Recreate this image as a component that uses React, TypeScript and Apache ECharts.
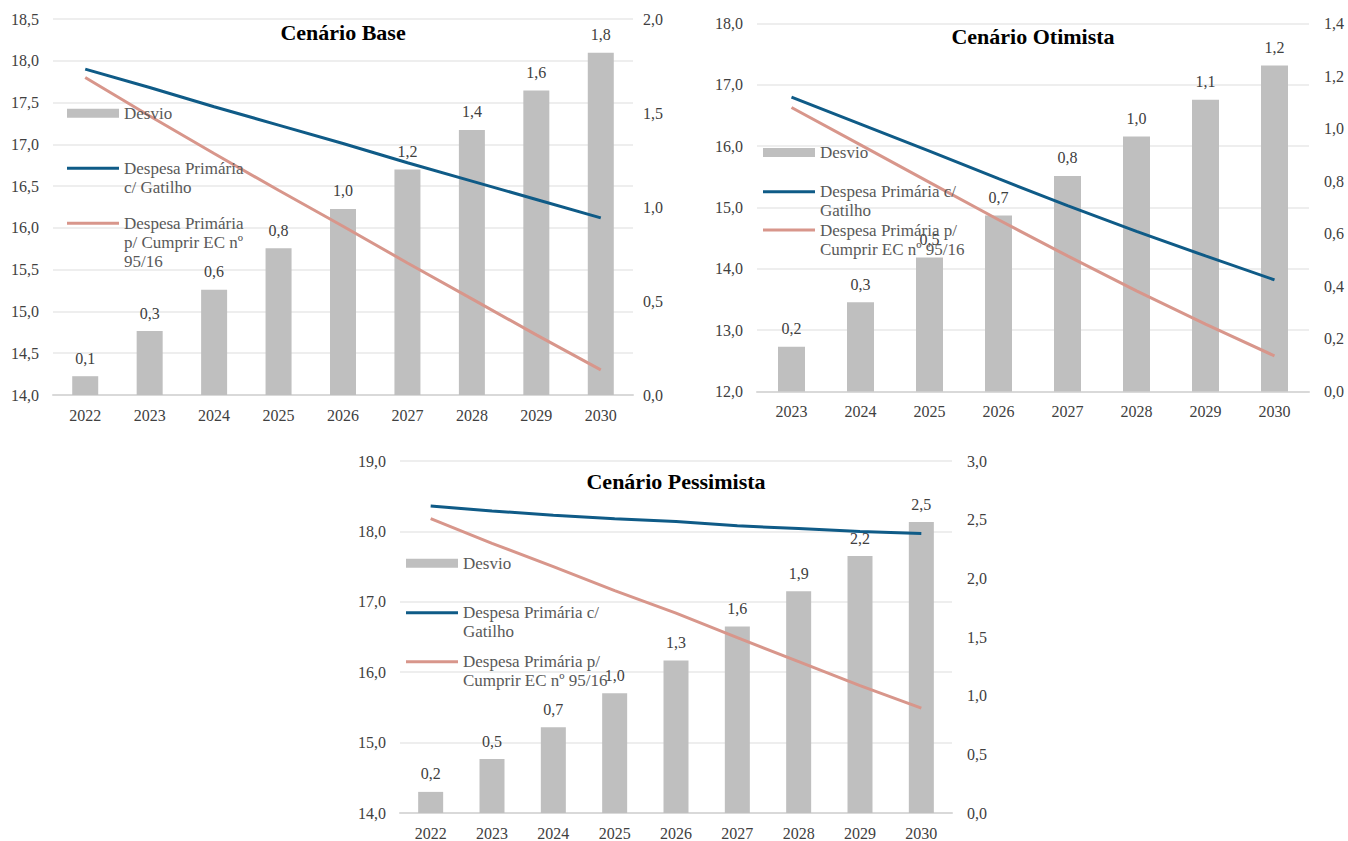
import React, { useEffect, useRef } from "react";
import * as echarts from "echarts";

// Anos de cada cenário
const yearsBase = ["2022", "2023", "2024", "2025", "2026", "2027", "2028", "2029", "2030"];
const yearsOtimista = ["2023", "2024", "2025", "2026", "2027", "2028", "2029", "2030"];
const yearsPessimista = ["2022", "2023", "2024", "2025", "2026", "2027", "2028", "2029", "2030"];

// Cenário Base (% do PIB)
const gatilhoBase = [17.9, 17.68, 17.45, 17.23, 17.01, 16.78, 16.56, 16.34, 16.12];
const ecBase = [17.8, 17.34, 16.89, 16.45, 16.02, 15.58, 15.15, 14.72, 14.3];
const desvioBase = [0.1, 0.34, 0.56, 0.78, 0.99, 1.2, 1.41, 1.62, 1.82];

// Cenário Otimista (% do PIB)
const gatilhoOtimista = [16.8, 16.36, 15.92, 15.47, 15.03, 14.61, 14.21, 13.82];
const ecOtimista = [16.63, 16.02, 15.41, 14.8, 14.21, 13.64, 13.1, 12.58];
const desvioOtimista = [0.17, 0.34, 0.51, 0.67, 0.82, 0.97, 1.11, 1.24];

// Cenário Pessimista (% do PIB)
const gatilhoPessimista = [18.36, 18.29, 18.23, 18.18, 18.14, 18.08, 18.04, 18.0, 17.97];
const ecPessimista = [18.18, 17.83, 17.5, 17.16, 16.84, 16.49, 16.15, 15.81, 15.49];
const desvioPessimista = [0.18, 0.46, 0.73, 1.02, 1.3, 1.59, 1.89, 2.19, 2.48];

const NAME_DESVIO = "Desvio";
const NAME_GATILHO = "Despesa Primária c/ Gatilho";
const NAME_EC = "Despesa Primária p/ Cumprir EC nº 95/16";

const FONT = "Liberation Serif";
const BAR_COLOR = "#bfbfbf";
const BLUE = "#0f5b87";
const SALMON = "#d8968b";
const TEXT = "#404040";
const LEGEND_TEXT = "#595959";

const fmt = (v: number) => v.toFixed(1).replace(".", ",");

type Panel = {
  title: string;
  years: string[];
  gatilho: number[];
  ec: number[];
  desvio: number[];
  grid: { left: number; top: number; width: number; height: number };
  leftAxis: { min: number; max: number; interval: number };
  rightAxis: { min: number; max: number; interval: number };
  barWidth: number;
  titleTop: number;
  legendLeft: number;
  legendCenters: [number, number, number];
  legendLines: [string[], string[], string[]];
  rightMargin: number;
};

const panels: Panel[] = [
  {
    title: "Cenário Base",
    years: yearsBase,
    gatilho: gatilhoBase,
    ec: ecBase,
    desvio: desvioBase,
    grid: { left: 53, top: 19, width: 580, height: 376 },
    leftAxis: { min: 14, max: 18.5, interval: 0.5 },
    rightAxis: { min: 0, max: 2, interval: 0.5 },
    barWidth: 26,
    titleTop: 21,
    legendLeft: 67,
    legendCenters: [113.3, 168.3, 223.3],
    legendLines: [["Desvio"], ["Despesa Primária", "c/ Gatilho"], ["Despesa Primária", "p/ Cumprir EC nº", "95/16"]],
    rightMargin: 10,
  },
  {
    title: "Cenário Otimista",
    years: yearsOtimista,
    gatilho: gatilhoOtimista,
    ec: ecOtimista,
    desvio: desvioOtimista,
    grid: { left: 757, top: 23.5, width: 552, height: 368 },
    leftAxis: { min: 12, max: 18, interval: 1 },
    rightAxis: { min: 0, max: 1.4, interval: 0.2 },
    barWidth: 27,
    titleTop: 25,
    legendLeft: 763,
    legendCenters: [152.5, 191.7, 230],
    legendLines: [["Desvio"], ["Despesa Primária c/", "Gatilho"], ["Despesa Primária p/", "Cumprir EC nº 95/16"]],
    rightMargin: 15,
  },
  {
    title: "Cenário Pessimista",
    years: yearsPessimista,
    gatilho: gatilhoPessimista,
    ec: ecPessimista,
    desvio: desvioPessimista,
    grid: { left: 400, top: 461, width: 552, height: 352 },
    leftAxis: { min: 14, max: 19, interval: 1 },
    rightAxis: { min: 0, max: 3, interval: 0.5 },
    barWidth: 25,
    titleTop: 470,
    legendLeft: 406,
    legendCenters: [563.3, 612.7, 661.7],
    legendLines: [["Desvio"], ["Despesa Primária c/", "Gatilho"], ["Despesa Primária p/", "Cumprir EC nº 95/16"]],
    rightMargin: 15,
  },
];

const LINE_H = 19;
const LEGEND_SIZE = 17;

function buildOption() {
  const grid: any[] = [];
  const xAxis: any[] = [];
  const yAxis: any[] = [];
  const series: any[] = [];
  const title: any[] = [];
  const legend: any[] = [];

  panels.forEach((p, i) => {
    grid.push({ ...p.grid, containLabel: false });

    xAxis.push({
      type: "category",
      gridIndex: i,
      data: p.years,
      axisTick: { show: false },
      axisLine: { lineStyle: { color: "#d9d9d9", width: 2 } },
      axisLabel: { fontFamily: FONT, fontSize: 16, color: TEXT, margin: 12 },
    });

    yAxis.push({
      type: "value",
      gridIndex: i,
      position: "left",
      min: p.leftAxis.min,
      max: p.leftAxis.max,
      interval: p.leftAxis.interval,
      axisLine: { show: false },
      axisTick: { show: false },
      splitLine: { lineStyle: { color: "#eeeeee", width: 2 } },
      axisLabel: { fontFamily: FONT, fontSize: 16, color: TEXT, margin: 14, formatter: fmt },
    });
    yAxis.push({
      type: "value",
      gridIndex: i,
      position: "right",
      min: p.rightAxis.min,
      max: p.rightAxis.max,
      interval: p.rightAxis.interval,
      axisLine: { show: false },
      axisTick: { show: false },
      splitLine: { show: false },
      axisLabel: { fontFamily: FONT, fontSize: 16, color: TEXT, margin: p.rightMargin, formatter: fmt },
    });

    series.push({
      type: "bar",
      name: NAME_DESVIO,
      xAxisIndex: i,
      yAxisIndex: i * 2 + 1,
      data: p.desvio,
      barWidth: p.barWidth,
      itemStyle: { color: BAR_COLOR },
      label: {
        show: true,
        position: "top",
        distance: 10,
        fontFamily: FONT,
        fontSize: 16,
        color: TEXT,
        formatter: (d: any) => fmt(d.value),
      },
      z: 1,
    });
    series.push({
      type: "line",
      name: NAME_GATILHO,
      xAxisIndex: i,
      yAxisIndex: i * 2,
      data: p.gatilho,
      symbol: "none",
      color: BLUE,
      lineStyle: { color: BLUE, width: 3 },
      z: 3,
    });
    series.push({
      type: "line",
      name: NAME_EC,
      xAxisIndex: i,
      yAxisIndex: i * 2,
      data: p.ec,
      symbol: "none",
      color: SALMON,
      lineStyle: { color: SALMON, width: 3 },
      z: 3,
    });

    title.push({
      text: p.title,
      left: p.grid.left + p.grid.width / 2,
      top: p.titleTop,
      textAlign: "center",
      padding: 0,
      textStyle: { fontFamily: FONT, fontSize: 22, fontWeight: "bold", color: "#000" },
    });

    // Uma legenda por item, com o ícone alinhado à primeira linha do texto
    const names = [NAME_DESVIO, NAME_GATILHO, NAME_EC];
    names.forEach((name, k) => {
      const lines = p.legendLines[k];
      const extra = (lines.length - 1) * LINE_H;
      const boxH = lines.length * LINE_H + extra;
      const isBar = k === 0;
      legend.push({
        orient: "vertical",
        left: p.legendLeft,
        top: p.legendCenters[k] - boxH / 2,
        padding: 0,
        selectedMode: false,
        itemWidth: 52,
        itemHeight: isBar ? 9 : 3,
        itemGap: 0,
        itemStyle: { borderWidth: 0 },
        data: [{ name, icon: "rect" }],
        formatter: () => "{t|" + lines.join("}\n{t|") + "}",
        textStyle: {
          fontFamily: FONT,
          fontSize: LEGEND_SIZE,
          lineHeight: LINE_H,
          color: LEGEND_TEXT,
          padding: [extra, 0, 0, 0],
          rich: {
            t: { fontFamily: FONT, fontSize: LEGEND_SIZE, lineHeight: LINE_H, color: LEGEND_TEXT },
          },
        },
      });
    });
  });

  return {
    animation: false,
    backgroundColor: "#ffffff",
    textStyle: { fontFamily: FONT },
    title,
    legend,
    grid,
    xAxis,
    yAxis,
    series,
  };
}

export default function App() {
  const ref = useRef<HTMLDivElement>(null);

  useEffect(() => {
    if (!ref.current) return;
    const chart = echarts.init(ref.current, undefined, { renderer: "svg" });
    chart.setOption(buildOption() as any);
    return () => chart.dispose();
  }, []);

  return (
    <div
      ref={ref}
      style={{ position: "fixed", left: 0, top: 0, width: 1348, height: 841, background: "#fff" }}
    />
  );
}
